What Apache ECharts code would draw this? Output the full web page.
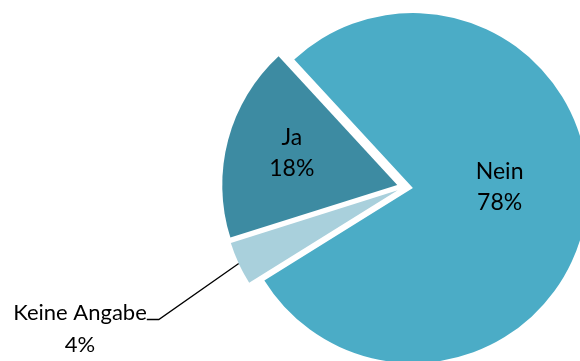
<!DOCTYPE html>
<html>
<head>
<meta charset="utf-8">
<script src="https://cdn.jsdelivr.net/npm/echarts@6/dist/echarts.min.js"></script>
<style>
  html, body { margin: 0; padding: 0; background: #ffffff; }
  #chart { width: 580px; height: 361px; }
</style>
</head>
<body>
<div id="chart"></div>
<script>
// Answer categories and their shares (percent), in clockwise drawing order
const categories = ['Nein', 'Keine Angabe', 'Ja'];
const shares = [78, 4, 18];
const sliceColors = ['#4BACC6', '#A9D0DC', '#3D8BA2'];

// Fine-tuning of where each inside label sits relative to ECharts' default spot
const labelShift = [[-3, -13], [0, 0], [-18, -9]];

const CENTER = [405, 187];
const RADIUS = 175;
const START_ANGLE = 132.7;
const EXPLODE = 8;

const chart = echarts.init(document.getElementById('chart'), null, { renderer: 'canvas' });

const total = shares.reduce((a, b) => a + b, 0);
const textStyle = { color: '#000000', fontFamily: 'Lato', align: 'center' };

// One pie per slice: every pie holds the full data so angles line up,
// but only its own slice is painted; its centre is pushed outward
// along the slice's middle angle to pull the slices apart.
let before = 0;
const series = categories.map((name, k) => {
  const midDeg = START_ANGLE - (before + shares[k] / 2) / total * 360;
  before += shares[k];
  const rad = midDeg * Math.PI / 180;
  const cx = CENTER[0] + EXPLODE * Math.cos(rad);
  const cy = CENTER[1] - EXPLODE * Math.sin(rad);
  const outside = k === 1;
  const label = outside
    ? Object.assign({}, textStyle, {
        position: 'outside',
        // a short blank top row lifts the leader line to the first text line
        formatter: p => '{gap| }\n{t|' + p.name + '}\n{t|' + p.value + '%}',
        rich: {
          gap: { fontSize: 10, lineHeight: 18, fontFamily: 'Lato' },
          t: { fontSize: 22, lineHeight: 32, fontFamily: 'Lato', color: '#000000', align: 'center' }
        }
      })
    : Object.assign({}, textStyle, {
        position: 'inside',
        fontSize: 23,
        lineHeight: 31,
        formatter: p => p.name + '\n' + p.value + '%'
      });
  return {
    type: 'pie',
    center: [cx, cy],
    radius: RADIUS,
    startAngle: START_ANGLE,
    clockwise: true,
    silent: true,
    data: categories.map((n, i) => ({
      name: n,
      value: shares[i],
      itemStyle: { color: i === k ? sliceColors[i] : 'rgba(0,0,0,0)' },
      label: { show: i === k },
      labelLine: { show: i === k && outside }
    })),
    itemStyle: { borderWidth: 0 },
    label: label,
    labelLine: {
      length: 20,
      length2: 12,
      minTurnAngle: 0,
      lineStyle: { color: '#000000', width: 1.3 }
    },
    labelLayout: function (params) {
      if (params.dataIndex !== k) return {};
      if (outside) {
        return { x: 80, y: 320, align: 'center', verticalAlign: 'middle' };
      }
      return { dx: labelShift[k][0], dy: labelShift[k][1] };
    }
  };
});

chart.setOption({ animation: false, series: series });
</script>
</body>
</html>
